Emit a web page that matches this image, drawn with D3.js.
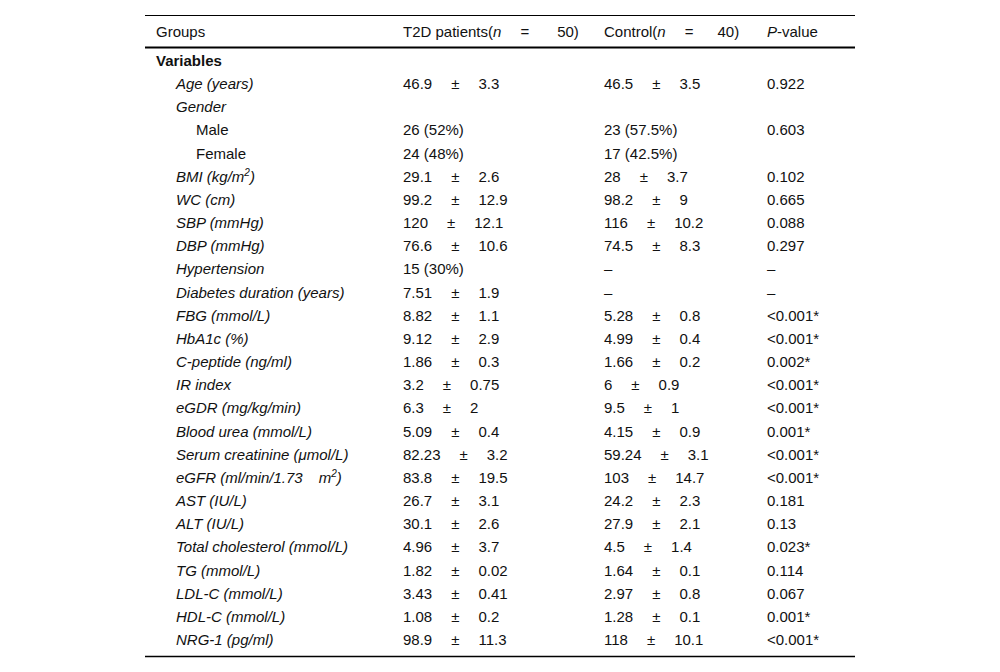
<!DOCTYPE html>
<html>
<head>
<meta charset="utf-8">
<script src="https://cdn.jsdelivr.net/npm/d3@7"></script>
<style>
  body { margin: 0; background: #fff; }
  svg { display: block; font-family: "Liberation Sans", Arial, sans-serif; font-size: 15px; fill: #111; }
  .it { font-style: italic; }
  .bold { font-weight: bold; }
</style>
</head>
<body>
<svg width="1000" height="672"></svg>
<script>
// **** data ****

var rowLabels = ["Variables", "Age (years)", "Gender", "Male", "Female", "BMI (kg/m2)", "WC (cm)",
    "SBP (mmHg)", "DBP (mmHg)", "Hypertension", "Diabetes duration (years)", "FBG (mmol/L)",
    "HbA1c (%)", "C-peptide (ng/ml)", "IR index", "eGDR (mg/kg/min)", "Blood urea (mmol/L)",
    "Serum creatinine (\u03bcmol/L)", "eGFR (ml/min/1.73 m2)", "AST (IU/L)", "ALT (IU/L)",
    "Total cholesterol (mmol/L)", "TG (mmol/L)", "LDL-C (mmol/L)", "HDL-C (mmol/L)", "NRG-1 (pg/ml)"];

var subRows = ["Male", "Female"];

// mean / sd pairs, or a plain string when the cell is a count
var t2dMean = ["", "46.9", "", "26 (52%)", "24 (48%)", "29.1", "99.2", "120", "76.6", "15 (30%)", "7.51",
    "8.82", "9.12", "1.86", "3.2", "6.3", "5.09", "82.23", "83.8", "26.7", "30.1", "4.96", "1.82", "3.43", "1.08", "98.9"];
var t2dSD = ["", "3.3", "", "", "", "2.6", "12.9", "12.1", "10.6", "", "1.9",
    "1.1", "2.9", "0.3", "0.75", "2", "0.4", "3.2", "19.5", "3.1", "2.6", "3.7", "0.02", "0.41", "0.2", "11.3"];
var ctrlMean = ["", "46.5", "", "23 (57.5%)", "17 (42.5%)", "28", "98.2", "116", "74.5", "\u2013", "\u2013",
    "5.28", "4.99", "1.66", "6", "9.5", "4.15", "59.24", "103", "24.2", "27.9", "4.5", "1.64", "2.97", "1.28", "118"];
var ctrlSD = ["", "3.5", "", "", "", "3.7", "9", "10.2", "8.3", "", "",
    "0.8", "0.4", "0.2", "0.9", "1", "0.9", "3.1", "14.7", "2.3", "2.1", "1.4", "0.1", "0.8", "0.1", "10.1"];
var pValues = ["", "0.922", "", "0.603", "", "0.102", "0.665", "0.088", "0.297", "\u2013", "\u2013",
    "<0.001*", "<0.001*", "0.002*", "<0.001*", "<0.001*", "0.001*", "<0.001*", "<0.001*", "0.181", "0.13",
    "0.023*", "0.114", "0.067", "0.001*", "<0.001*"];

var columns = ["label", "t2d", "ctrl", "p"];

// **** scales ****

var svg = d3.select("svg");

var colX = d3.scaleOrdinal().domain(columns).range([156, 403, 604, 767]);

var rowY = d3.scalePoint()
    .domain(d3.range(rowLabels.length))
    .range([66, 645]);

var left = 145, right = 855;

// **** rules ****

svg.append("line").attr("x1", left).attr("x2", right).attr("y1", 15.5).attr("y2", 15.5)
    .attr("stroke", "#000").attr("stroke-width", 1);
svg.append("line").attr("x1", left).attr("x2", right).attr("y1", 47.5).attr("y2", 47.5)
    .attr("stroke", "#000").attr("stroke-width", 2);
svg.append("line").attr("x1", left).attr("x2", right).attr("y1", 656.5).attr("y2", 656.5)
    .attr("stroke", "#000").attr("stroke-width", 1.3);

// **** header ****

var headY = 36.5;
svg.append("text").attr("x", colX("label")).attr("y", headY).text("Groups");

function groupHead(col, name, n, gap) {
    var t = svg.append("text").attr("x", colX(col)).attr("y", headY);
    t.append("tspan").text(name + "(");
    t.append("tspan").attr("class", "it").text("n");
    t.append("tspan").attr("dx", 19).text("=");
    t.append("tspan").attr("dx", gap).text(n + ")");
}
groupHead("t2d", "T2D patients", 50, 28);
groupHead("ctrl", "Control", 40, 24);

var ph = svg.append("text").attr("x", colX("p")).attr("y", headY);
ph.append("tspan").attr("class", "it").text("P");
ph.append("tspan").text("-value");

// **** body ****

var rows = svg.selectAll("g.row")
    .data(rowLabels)
    .enter()
    .append("g")
    .attr("class", "row")
    .attr("transform", function(d, i) { return "translate(0," + rowY(i) + ")"; });

// labels
rows.each(function(d, i) {
    var g = d3.select(this);
    var t = g.append("text");
    if (i == 0) {
        t.attr("x", colX("label")).attr("class", "bold").text(d);
        return;
    }
    if (subRows.indexOf(d) >= 0) {
        t.attr("x", colX("label") + 40).text(d);
        return;
    }
    t.attr("x", colX("label") + 20).attr("class", "it");
    var m = d.match(/^(.*?)( ?)m2\)$/);
    if (m) {
        t.append("tspan").text(m[1]);
        t.append("tspan").attr("dx", m[2] ? 16 : 0).text("m");
        t.append("tspan").attr("dy", -6).attr("font-size", 10).text("2");
        t.append("tspan").attr("dy", 6).text(")");
    } else {
        t.text(d);
    }
});

function valueCell(g, x, mean, sd) {
    if (!mean) return;
    var t = g.append("text").attr("x", x);
    t.append("tspan").text(mean);
    if (sd) {
        t.append("tspan").attr("dx", 19).text("\u00b1");
        t.append("tspan").attr("dx", 19).text(sd);
    }
}

rows.each(function(d, i) {
    var g = d3.select(this);
    valueCell(g, colX("t2d"), t2dMean[i], t2dSD[i]);
    valueCell(g, colX("ctrl"), ctrlMean[i], ctrlSD[i]);
    if (pValues[i]) g.append("text").attr("x", colX("p")).text(pValues[i]);
});
</script>
</body>
</html>
